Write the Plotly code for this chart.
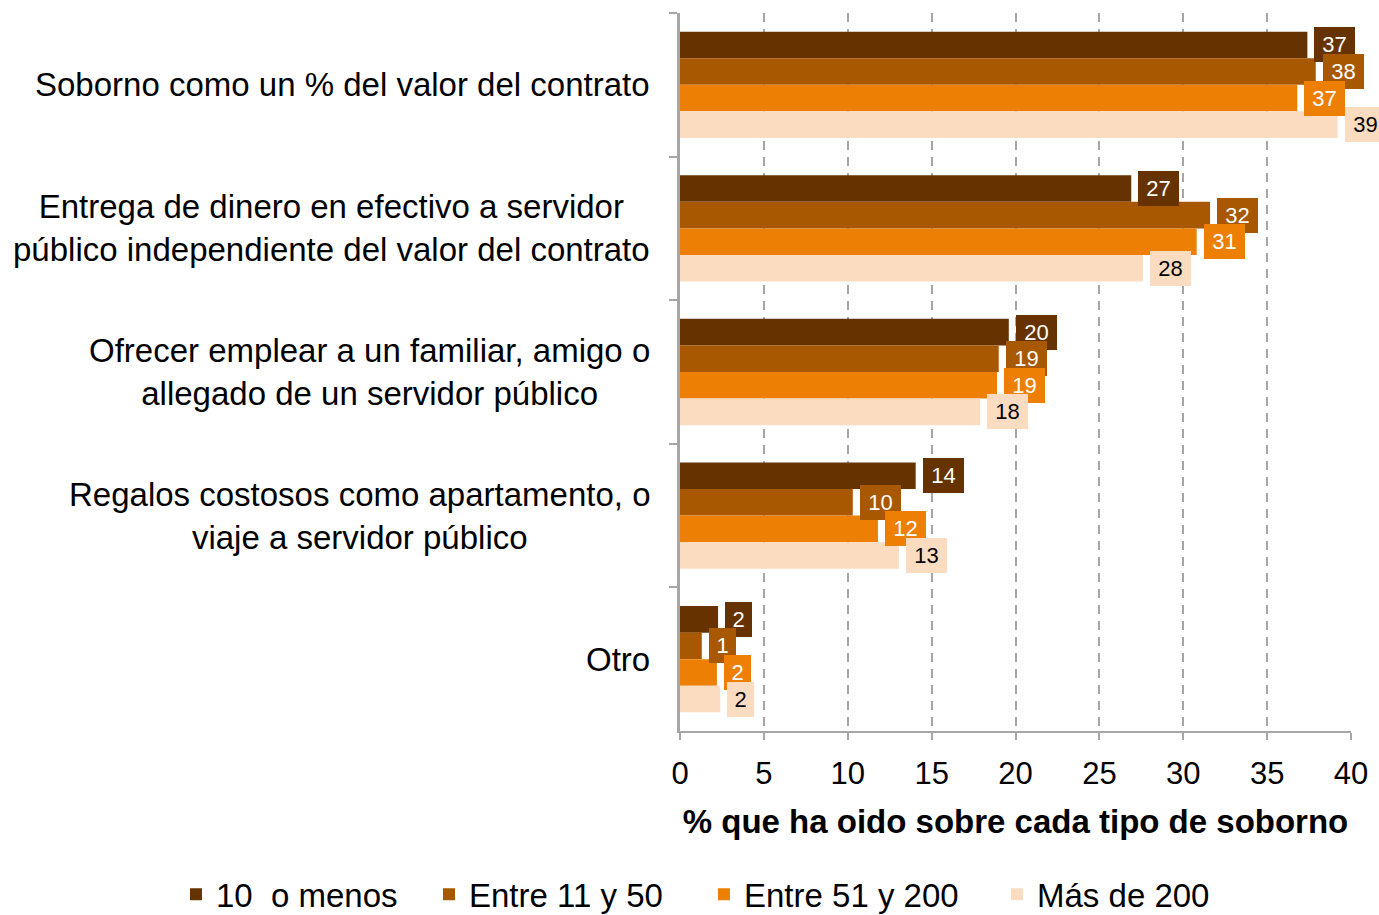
import plotly.graph_objects as go

categories = [
    "Soborno como un % del valor del contrato",
    "Entrega de dinero en efectivo a servidor<br>público independiente del valor del contrato",
    "Ofrecer emplear a un familiar, amigo o<br>allegado de un servidor público",
    "Regalos costosos como apartamento, o<br>viaje a servidor público",
    "Otro",
]
series_names = ["10\u00a0 o menos", "Entre 11 y 50", "Entre 51 y 200", "Más de 200"]
vals_10_menos = [37.4, 26.9, 19.6, 14.05, 2.27]
vals_11_50 = [37.9, 31.6, 19.0, 10.3, 1.3]
vals_51_200 = [36.8, 30.8, 18.9, 11.8, 2.2]
vals_mas_200 = [39.2, 27.6, 17.9, 13.05, 2.4]
series_values = [vals_10_menos, vals_11_50, vals_51_200, vals_mas_200]
x_ticks = [0, 5, 10, 15, 20, 25, 30, 35, 40]

colors = ["#663300", "#A85800", "#EC7F04", "#FBDCC0"]
label_font_colors = ["white", "white", "white", "black"]
legend_x = [0.1276, 0.3111, 0.5105, 0.7230]
FONT = "Arial, Liberation Sans, sans-serif"
BARGAP = 0.26

fig = go.Figure()
for k, (name, vals, col) in enumerate(zip(series_names, series_values, colors)):
    fig.add_trace(go.Bar(
        y=categories, x=vals, name=name, orientation="h",
        marker=dict(color=col, line=dict(width=0)),
        hoverinfo="x+name",
        legend="legend" if k == 0 else f"legend{k + 1}",
    ))

annotations = []
n = len(series_names)
bw = (1 - BARGAP) / n
for i, (vals, col, fc) in enumerate(zip(series_values, colors, label_font_colors)):
    for ci, v in enumerate(vals):
        txt = str(int(round(v)))
        annotations.append(dict(
            x=v, y=ci + (i - (n - 1) / 2) * bw, xref="x", yref="y",
            text=txt, showarrow=False, xanchor="left", yanchor="middle",
            xshift=7, bgcolor=col, borderwidth=0, borderpad=0,
            width=13 + 14 * len(txt), height=35,
            font=dict(family=FONT, size=22, color=fc),
        ))

for c in categories:
    annotations.append(dict(
        x=0, y=c, xref="paper", yref="y", text=c, showarrow=False,
        xanchor="right", yanchor="middle", align="center", xshift=-28,
        font=dict(family=FONT, size=33, color="black"),
    ))

legend_common = dict(
    orientation="h", xref="container", yref="container", y=0.0225,
    xanchor="left", yanchor="middle", font=dict(family=FONT, size=33),
    bgcolor="rgba(0,0,0,0)",
)
legends = {}
for k, lx in enumerate(legend_x):
    key = "legend" if k == 0 else f"legend{k + 1}"
    legends[key] = dict(legend_common, x=lx)

fig.update_layout(
    barmode="group", bargap=BARGAP, bargroupgap=0,
    width=1379, height=915,
    margin=dict(l=680, r=28, t=13, b=184),
    paper_bgcolor="white", plot_bgcolor="white",
    font=dict(family=FONT, size=31, color="black"),
    annotations=annotations,
    showlegend=True,
    **legends,
)
fig.update_xaxes(
    range=[0, 40], tickvals=x_ticks, ticktext=[str(t) for t in x_ticks],
    showgrid=True, gridcolor="#A6A6A6", gridwidth=2, griddash="9px,7px",
    zeroline=False, showline=True, linecolor="#A6A6A6", linewidth=2,
    ticks="outside", ticklen=7, tickwidth=2, tickcolor="#A6A6A6",
    ticklabelstandoff=7,
    tickfont=dict(family=FONT, size=31, color="black"),
    title=dict(text="<b>% que ha oido sobre cada tipo de soborno</b>",
               font=dict(family=FONT, size=33, color="black"), standoff=20),
)
fig.update_yaxes(
    type="category", autorange="reversed", showticklabels=False,
    showgrid=False, zeroline=False, showline=True, linecolor="#A6A6A6", linewidth=3,
    ticks="outside", tickson="boundaries", ticklen=8, tickwidth=2, tickcolor="#A6A6A6",
)

fig.write_html(
    "out.html",
    config={"displayModeBar": False},
    post_script="document.body.style.margin='0';"
                "document.documentElement.style.overflow='hidden';"
                "document.body.style.overflow='hidden';",
)
